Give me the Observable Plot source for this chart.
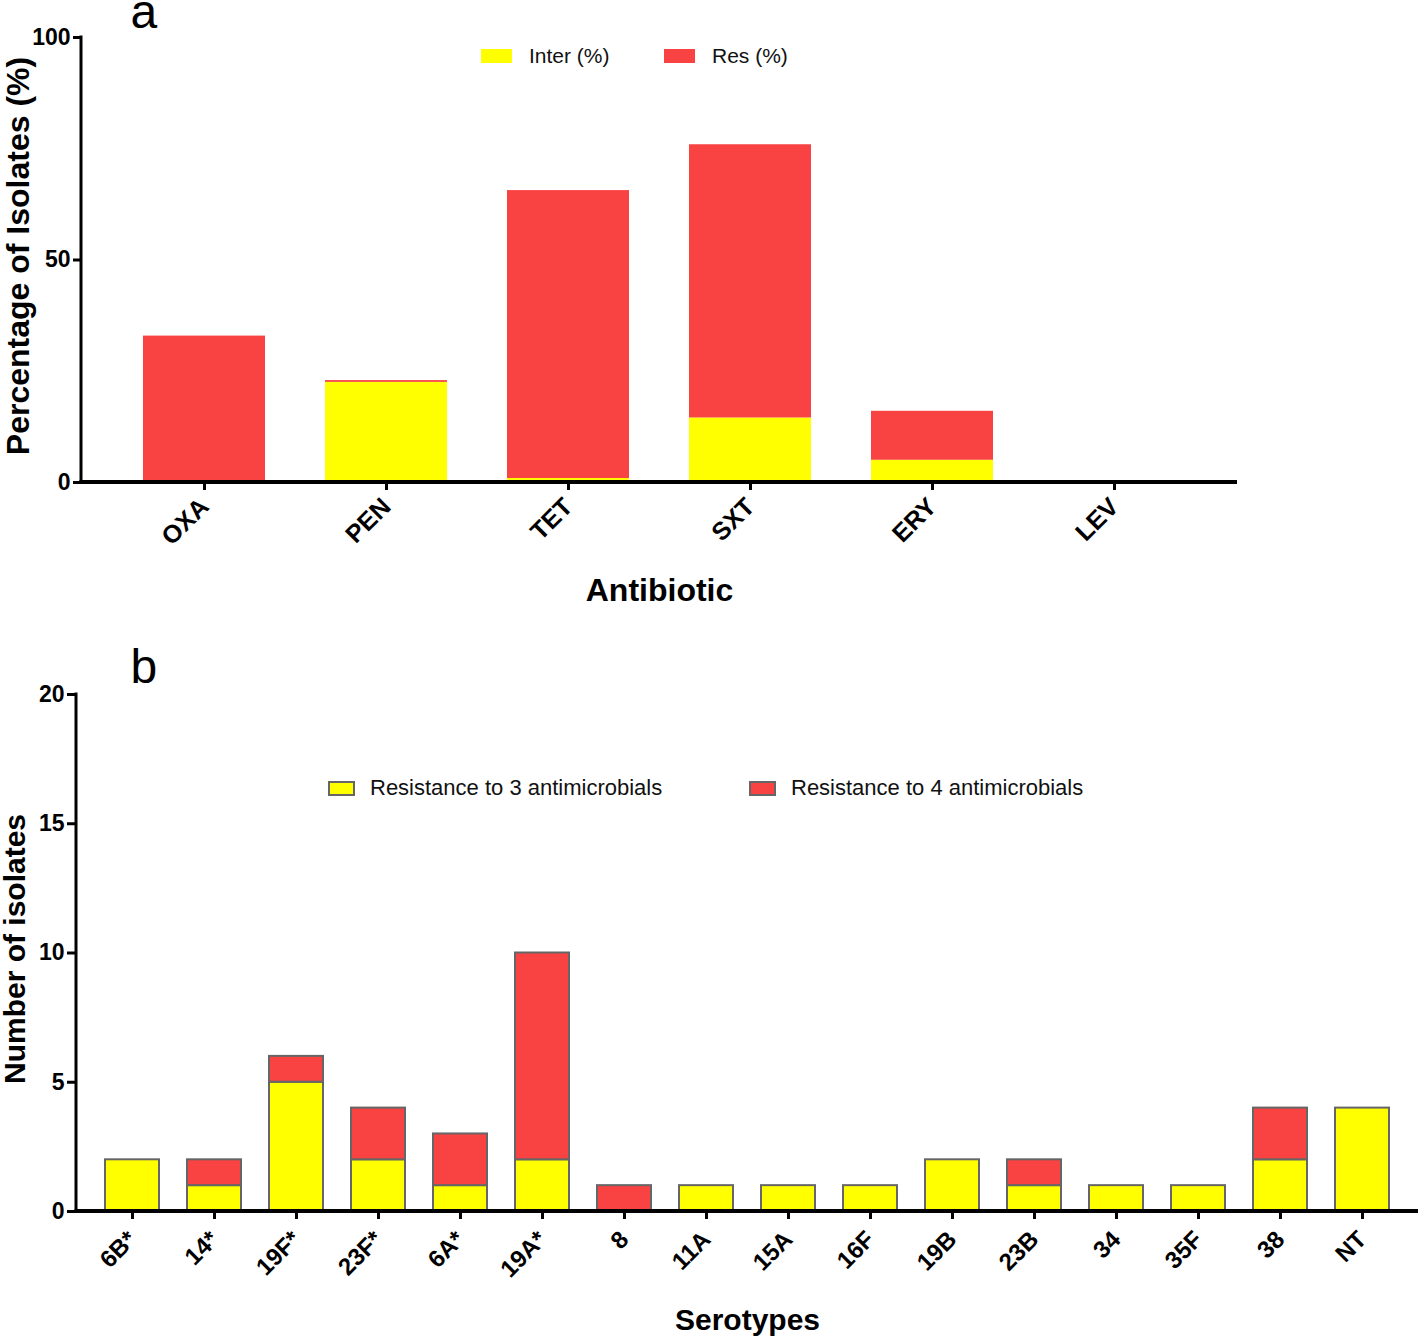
<!DOCTYPE html>
<html>
<head>
<meta charset="utf-8">
<script src="https://cdn.jsdelivr.net/npm/d3@7"></script>
<script src="https://cdn.jsdelivr.net/npm/@observablehq/plot@0.6"></script>
<style>
  body { margin: 0; background: #fff; font-family: "Liberation Sans", Arial, sans-serif; }
  #fig { position: relative; width: 1418px; height: 1336px; overflow: hidden; background: #fff; }
  .panel { position: absolute; left: 0; }
  .item { position: absolute; display: flex; align-items: center; color: #111; white-space: nowrap; }
  .sw { display: inline-block; box-sizing: border-box; }
</style>
</head>
<body>
<div id="fig">
  <div id="pa" class="panel" style="top:0"></div>
  <div id="pb" class="panel" style="top:620px"></div>
  <div id="lega0" class="item" style="left:481px;top:44px;height:24px;font-size:21px"></div>
  <div id="lega1" class="item" style="left:664px;top:44px;height:24px;font-size:21px"></div>
  <div id="legb0" class="item" style="left:328px;top:776px;height:24px;font-size:22px"></div>
  <div id="legb1" class="item" style="left:749px;top:776px;height:24px;font-size:22px"></div>
</div>
<script>
// ---------- Panel a data ----------
const antibiotics = ["OXA", "PEN", "TET", "SXT", "ERY", "LEV"];
const seriesA = ["Inter (%)", "Res (%)"];
const interPct = [0, 22.5, 0.9, 14.5, 5.0, 0];
const resPct = [32.9, 0.4, 64.7, 61.4, 11.0, 0];
const yTicksA = [0, 50, 100];
const titleXA = "Antibiotic";
const titleYA = "Percentage of Isolates (%)";

// ---------- Panel b data ----------
const serotypes = ["6B*", "14*", "19F*", "23F*", "6A*", "19A*", "8", "11A", "15A", "16F", "19B", "23B", "34", "35F", "38", "NT"];
const seriesB = ["Resistance to 3 antimicrobials", "Resistance to 4 antimicrobials"];
const res3 = [2, 1, 5, 2, 1, 2, 0, 1, 1, 1, 2, 1, 1, 1, 2, 4];
const res4 = [0, 1, 1, 2, 2, 8, 1, 0, 0, 0, 0, 1, 0, 0, 2, 0];
const yTicksB = [0, 5, 10, 15, 20];
const titleXB = "Serotypes";
const titleYB = "Number of isolates";

const YELLOW = "#ffff00";
const RED = "#f94343";
const FONT = "'Liberation Sans', Arial, Helvetica, sans-serif";

const dataA = [];
antibiotics.forEach((ab, i) => dataA.push({ab, type: seriesA[0], value: interPct[i]}));
antibiotics.forEach((ab, i) => dataA.push({ab, type: seriesA[1], value: resPct[i]}));

const dataB = [];
serotypes.forEach((s, i) => { if (res3[i] > 0) dataB.push({s, type: seriesB[0], value: res3[i]}); });
serotypes.forEach((s, i) => { if (res4[i] > 0) dataB.push({s, type: seriesB[1], value: res4[i]}); });

function axisLines(wy, wx) {
  return (index, scales, values, dims) => {
    const g = d3.create("svg:g");
    const x0 = dims.marginLeft, x1 = dims.width - dims.marginRight;
    const y0 = dims.marginTop, y1 = dims.height - dims.marginBottom;
    g.append("line").attr("x1", x0).attr("x2", x0).attr("y1", y0 - 1.5).attr("y2", y1 + wx / 2)
      .attr("stroke", "#000").attr("stroke-width", wy);
    g.append("line").attr("x1", x0 - wy / 2).attr("x2", x1).attr("y1", y1).attr("y2", y1)
      .attr("stroke", "#000").attr("stroke-width", wx);
    return g.node();
  };
}

const plotA = Plot.plot({
  width: 1418, height: 620,
  marginTop: 37, marginBottom: 138, marginLeft: 81, marginRight: 181,
  x: {domain: antibiotics, padding: 0.33, label: null},
  y: {domain: [0, 100], label: null},
  color: {domain: seriesA, range: [YELLOW, RED]},
  style: {fontFamily: FONT, background: "transparent", color: "#000", overflow: "visible"},
  marks: [
    Plot.barY(dataA, {x: "ab", y: "value", fill: "type"}),
    Plot.axisY({ticks: yTicksA, tickSize: 8, tickPadding: 3, fontSize: 23, fontWeight: "bold", strokeWidth: 3, label: null}),
    Plot.axisX({tickRotate: -45, tickSize: 8, tickPadding: 12, fontSize: 25, fontWeight: "bold", strokeWidth: 3, label: null}),
    axisLines(3, 4),
    Plot.text([titleXA], {text: d => d, frameAnchor: "bottom", dy: 118, fontSize: 32, fontWeight: "bold"}),
    Plot.text([titleYA], {text: d => d, frameAnchor: "left", dx: -63, dy: -4, rotate: -90, textAnchor: "middle", fontSize: 32, fontWeight: "bold"}),
    Plot.text(["a"], {text: d => d, frameAnchor: "top-left", dx: 49, dy: -10, textAnchor: "start", lineAnchor: "bottom", fontSize: 48})
  ]
});
document.getElementById("pa").appendChild(plotA);

const plotB = Plot.plot({
  width: 1418, height: 716,
  marginTop: 74, marginBottom: 125, marginLeft: 76, marginRight: 0,
  x: {domain: serotypes, padding: 0.34, label: null},
  y: {domain: [0, 20], label: null},
  color: {domain: seriesB, range: [YELLOW, RED]},
  style: {fontFamily: FONT, background: "transparent", color: "#000", overflow: "visible"},
  marks: [
    Plot.barY(dataB, {x: "s", y: "value", fill: "type", stroke: "#666", strokeWidth: 2}),
    Plot.axisY({ticks: yTicksB, tickSize: 9, tickPadding: 3, fontSize: 23, fontWeight: "bold", strokeWidth: 3, label: null}),
    Plot.axisX({tickRotate: -45, tickSize: 8, tickPadding: 16, fontSize: 24, fontWeight: "bold", strokeWidth: 3, label: null}),
    axisLines(3, 4),
    Plot.text([titleXB], {text: d => d, frameAnchor: "bottom", dy: 118, fontSize: 30, fontWeight: "bold"}),
    Plot.text([titleYB], {text: d => d, frameAnchor: "left", dx: -61, dy: -4, rotate: -90, textAnchor: "middle", fontSize: 30, fontWeight: "bold"}),
    Plot.text(["b"], {text: d => d, frameAnchor: "top-left", dx: 54, dy: -12, textAnchor: "start", lineAnchor: "bottom", fontSize: 48})
  ]
});
document.getElementById("pb").appendChild(plotB);

// legends
function legendItem(id, label, color, w, h, border, gap) {
  const el = document.getElementById(id);
  const sw = document.createElement("span");
  sw.className = "sw";
  sw.style.width = w + "px";
  sw.style.height = h + "px";
  sw.style.background = color;
  if (border) sw.style.border = "2px solid #666";
  sw.style.marginRight = gap + "px";
  el.appendChild(sw);
  const t = document.createElement("span");
  t.textContent = label;
  el.appendChild(t);
}
legendItem("lega0", seriesA[0], YELLOW, 31, 14, false, 17);
legendItem("lega1", seriesA[1], RED, 31, 14, false, 17);
legendItem("legb0", seriesB[0], YELLOW, 27, 15, true, 15);
legendItem("legb1", seriesB[1], RED, 27, 15, true, 15);
</script>
</body>
</html>
